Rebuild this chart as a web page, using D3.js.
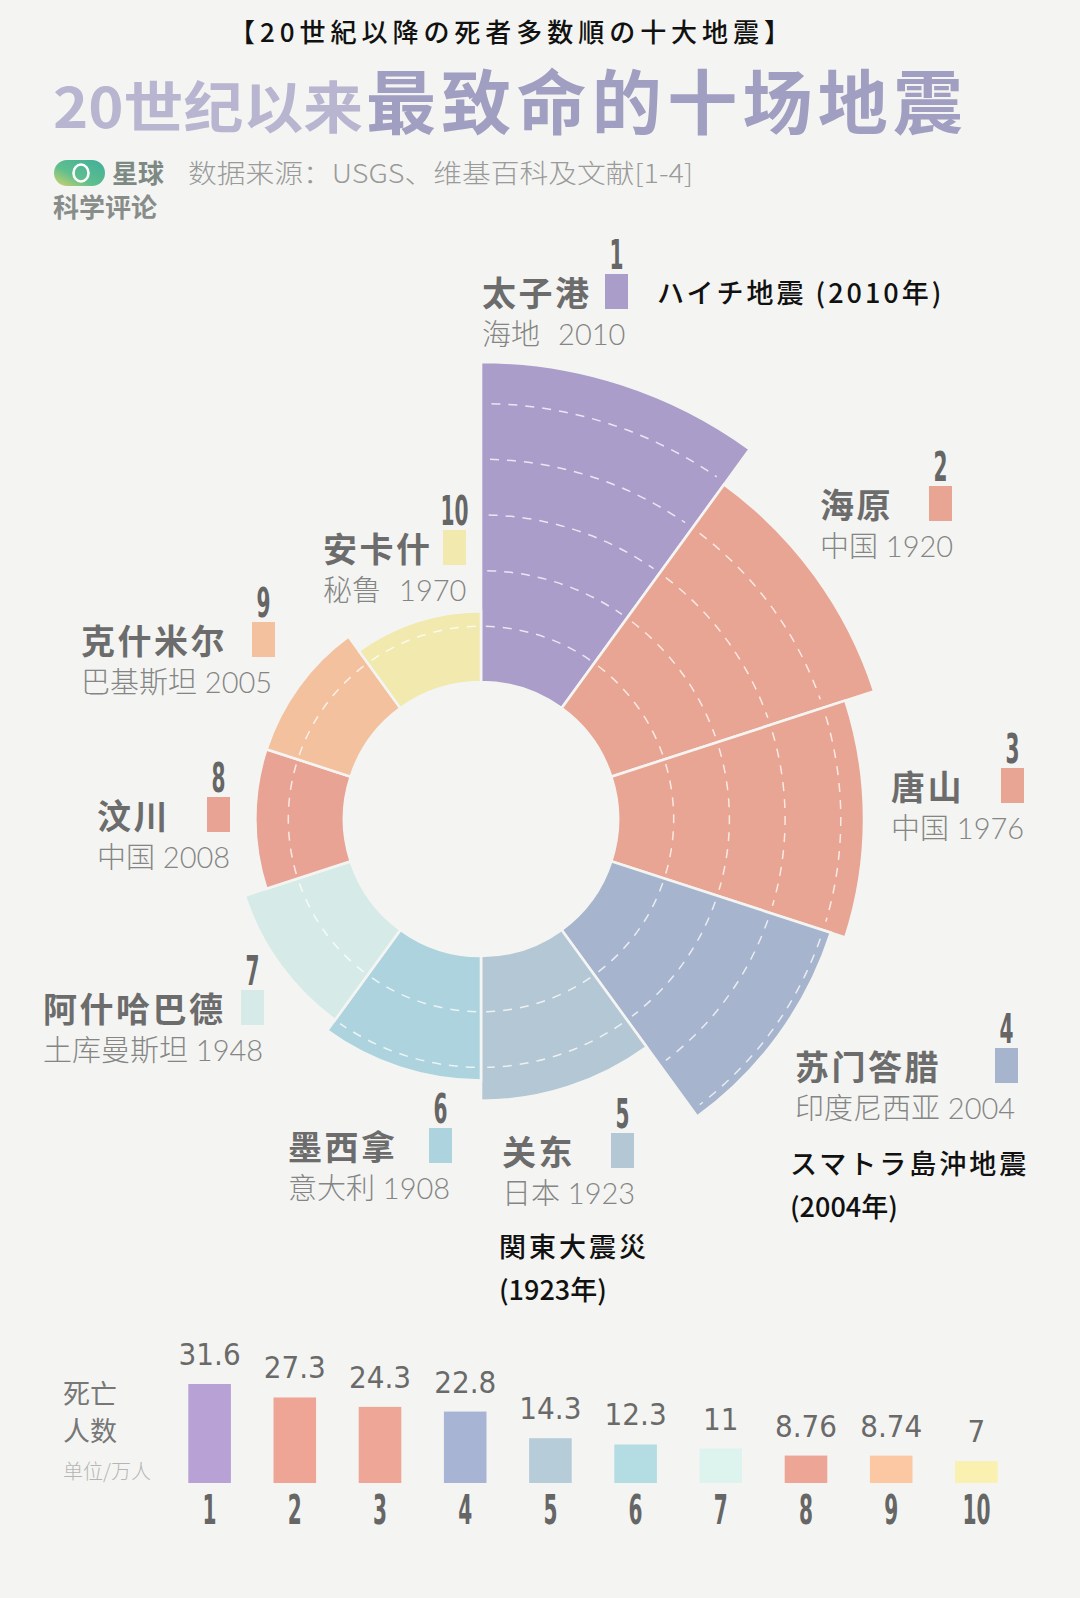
<!DOCTYPE html>
<html>
<head>
<meta charset="utf-8">
<script src="https://cdn.jsdelivr.net/npm/d3@7"></script>
<style>
  html,body{margin:0;padding:0;background:#f4f5f2;}
  svg{display:block;}
</style>
</head>
<body>
<div id="chart"></div>
<script>
// ---------------- data ----------------
const ranks = [1,2,3,4,5,6,7,8,9,10];
const names = ["太子港","海原","唐山","苏门答腊","关东","墨西拿","阿什哈巴德","汶川","克什米尔","安卡什"];
const countries = ["海地","中国","中国","印度尼西亚","日本","意大利","土库曼斯坦","中国","巴基斯坦","秘鲁"];
const years = ["2010","1920","1976","2004","1923","1908","1948","2008","2005","1970"];
const deaths = [31.6,27.3,24.3,22.8,14.3,12.3,11,8.76,8.74,7];          // 万人
const deathLabels = ["31.6","27.3","24.3","22.8","14.3","12.3","11","8.76","8.74","7"];
const gridValues = [5.5,11,16.5,22,27.5];
const jpNotes = [
  {rank:1, lines:["ハイチ地震 (2010年)"]},
  {rank:4, lines:["スマトラ島沖地震","(2004年)"]},
  {rank:5, lines:["関東大震災","(1923年)"]}
];

// ---------------- styles / layout ----------------
const sliceColors = ["#ab9dca","#e8a593","#e8a593","#a6b4cd","#b3c7d4","#add3de","#d6ebe7","#e9a394","#f3c19e","#f1e9ae"];
const barColors   = ["#b8a1d5","#eea595","#eea696","#a8b4d3","#b7ccd9","#b3dce3","#ddf3ee","#eda596","#fbc8a3","#faf0b0"];
const labelLayout = [ // name x, name baseline, swatch x
  {x:482, y:306, sx:605},
  {x:820, y:518, sx:929},
  {x:891, y:800, sx:1001},
  {x:795, y:1080, sx:995},
  {x:502, y:1165, sx:611},
  {x:288, y:1160, sx:429},
  {x:43,  y:1022, sx:241},
  {x:97,  y:829,  sx:207},
  {x:81,  y:654,  sx:252},
  {x:323, y:562,  sx:443}
];
const noteLayout = {1:{x:657,y:303}, 4:{x:790,y:1174}, 5:{x:499,y:1257}};

const W = 1080, H = 1598;
const CJK = "'Noto Sans CJK SC','Noto Sans CJK JP',sans-serif";
const SUB = "Lato,'Noto Sans CJK SC',sans-serif";
const NARROW = "'Liberation Sans Narrow','DejaVu Sans Condensed',sans-serif";

const svg = d3.select("#chart").append("svg").attr("width", W).attr("height", H);
svg.append("rect").attr("width", W).attr("height", H).attr("fill", "#f4f5f2");

// ---------------- header ----------------
svg.append("text").attr("x", 229).attr("y", 42)
  .attr("font-family", "'Noto Sans CJK JP',sans-serif").attr("font-weight", 500)
  .attr("font-size", 26).attr("fill", "#111")
  .attr("textLength", 561).attr("lengthAdjust", "spacing")
  .text("【20世紀以降の死者多数順の十大地震】");

svg.append("text").attr("x", 53).attr("y", 128)
  .attr("font-family", CJK).attr("font-weight", 700)
  .attr("font-size", 56).attr("fill", "#b7b5cf")
  .attr("textLength", 310).attr("lengthAdjust", "spacingAndGlyphs")
  .text("20世纪以来");
svg.append("text").attr("x", 366).attr("y", 129)
  .attr("font-family", CJK).attr("font-weight", 700)
  .attr("font-size", 70).attr("fill", "#a19fc1")
  .attr("textLength", 597).attr("lengthAdjust", "spacing")
  .text("最致命的十场地震");

// logo
const defs = svg.append("defs");
const lg = defs.append("linearGradient").attr("id","logoG").attr("x1","0").attr("y1","1").attr("x2","1").attr("y2","0");
lg.append("stop").attr("offset","0%").attr("stop-color","#d6d36a");
lg.append("stop").attr("offset","40%").attr("stop-color","#5fbf8e");
lg.append("stop").attr("offset","100%").attr("stop-color","#3fae9a");
svg.append("rect").attr("x",54).attr("y",160).attr("width",51).attr("height",26).attr("rx",13)
  .attr("fill","url(#logoG)");
svg.append("ellipse").attr("cx",81).attr("cy",173).attr("rx",7.5).attr("ry",8.5)
  .attr("fill","none").attr("stroke","#fff").attr("stroke-width",2.6);
svg.append("text").attr("x",112).attr("y",183)
  .attr("font-family",CJK).attr("font-weight",700).attr("font-size",26).attr("fill","#7d8983")
  .text("星球");
svg.append("text").attr("x",53).attr("y",217)
  .attr("font-family",CJK).attr("font-weight",700).attr("font-size",26).attr("fill","#888d8a")
  .text("科学评论");
svg.append("text").attr("x",188).attr("y",183)
  .attr("font-family",CJK).attr("font-weight",300).attr("font-size",26).attr("fill","#9a9a9a")
  .attr("textLength", 505).attr("lengthAdjust","spacingAndGlyphs")
  .text("数据来源：USGS、维基百科及文献[1-4]");

// ---------------- rose ----------------
const cx = 481, cy = 819;
const rScale = d3.scaleLinear().domain([0, d3.max(deaths)]).range([137, 457]);
const aScale = d3.scaleBand().domain(ranks).range([0, 2*Math.PI]);
const rose = svg.append("g").attr("transform", `translate(${cx},${cy})`);
const arc = d3.arc()
  .innerRadius(rScale(0))
  .outerRadius((d,i) => rScale(deaths[i]))
  .startAngle((d) => aScale(d))
  .endAngle((d) => aScale(d) + aScale.bandwidth());

rose.selectAll("path.slice").data(ranks).join("path")
  .attr("class","slice")
  .attr("d", (d,i) => arc(d,i))
  .attr("fill", (d,i) => sliceColors[i])
  .attr("stroke", "#f4f5f2").attr("stroke-width", 2.6).attr("stroke-linejoin","miter");

// dashed rings inside slices
ranks.forEach((d,i) => {
  const a0 = aScale(d) + 0.025, a1 = aScale(d) + aScale.bandwidth() - 0.025;
  gridValues.filter(g => g < deaths[i] - 0.4).forEach(g => {
    const p = d3.path();
    p.arc(0, 0, rScale(g), a0 - Math.PI/2, a1 - Math.PI/2);
    rose.append("path").attr("d", p.toString())
      .attr("fill","none").attr("stroke","rgba(255,255,255,0.75)")
      .attr("stroke-width",1.5).attr("stroke-dasharray","9 8");
  });
});

// ---------------- labels ----------------
ranks.forEach((d,i) => {
  const L = labelLayout[i];
  svg.append("text").attr("x", L.x).attr("y", L.y)
    .attr("font-family", CJK).attr("font-weight", 700).attr("font-size", 34)
    .attr("letter-spacing", 2.5).attr("fill", "#6c6c6c").text(names[i]);
  const sep = (d===1 || d===10) ? "\u2002\u2009" : " ";
  svg.append("text").attr("x", L.x).attr("y", L.y + 39)
    .attr("font-family", SUB).attr("font-weight", 300).attr("font-size", 29)
    .attr("fill", "#858585")
    .text(countries[i] + sep + years[i]);
  svg.append("rect").attr("x", L.sx).attr("y", L.y - 32).attr("width", 23).attr("height", 35)
    .attr("fill", sliceColors[i]);
  const rs = String(d);
  svg.append("text").attr("x", L.sx + 11.5).attr("y", L.y - 37)
    .attr("text-anchor","middle")
    .attr("font-family", NARROW).attr("font-weight", 700).attr("font-size", 40)
    .attr("fill", "#666")
    .attr("textLength", rs.length * 14).attr("lengthAdjust","spacingAndGlyphs")
    .text(rs);
});

// Japanese notes
jpNotes.forEach(n => {
  const P = noteLayout[n.rank];
  n.lines.forEach((t, k) => {
    svg.append("text").attr("x", P.x).attr("y", P.y + k*43)
      .attr("font-family", "'Noto Sans CJK JP',sans-serif").attr("font-weight", 500)
      .attr("font-size", 27).attr("fill", "#111")
      .attr("letter-spacing", /^\(/.test(t) ? 0 : 3)
      .text(t);
  });
});

// ---------------- bar chart ----------------
const x = d3.scaleBand().domain(ranks).range([167, 1019]).paddingInner(0.5).paddingOuter(0.25);
const y = d3.scaleLinear().domain([0, d3.max(deaths)]).range([1483, 1384]);
const bars = svg.append("g");
bars.selectAll("rect").data(ranks).join("rect")
  .attr("x", d => x(d)).attr("width", x.bandwidth())
  .attr("y", (d,i) => y(deaths[i])).attr("height", (d,i) => y(0) - y(deaths[i]))
  .attr("fill", (d,i) => barColors[i]);
bars.selectAll("text.val").data(ranks).join("text")
  .attr("class","val")
  .attr("x", d => x(d) + x.bandwidth()/2)
  .attr("y", (d,i) => y(deaths[i]) - 19)
  .attr("text-anchor","middle")
  .attr("font-family", NARROW).attr("font-size", 31).attr("fill", "#6a6a6a")
  .text((d,i) => deathLabels[i]);
const xAxis = d3.axisBottom(x).tickSize(0).tickPadding(0);
const gx = svg.append("g").attr("transform", `translate(0,${y(0)})`).call(xAxis);
gx.select(".domain").remove();
gx.selectAll("text")
  .attr("y", 41).attr("dy", 0)
  .attr("font-family", NARROW).attr("font-weight", 700).attr("font-size", 40)
  .attr("fill", "#666")
  .attr("textLength", d => String(d).length * 14).attr("lengthAdjust","spacingAndGlyphs");

svg.append("text").attr("x", 63).attr("y", 1404)
  .attr("font-family", CJK).attr("font-weight", 400).attr("font-size", 27).attr("fill", "#777")
  .text("死亡");
svg.append("text").attr("x", 63).attr("y", 1441)
  .attr("font-family", CJK).attr("font-weight", 400).attr("font-size", 27).attr("fill", "#777")
  .text("人数");
svg.append("text").attr("x", 63).attr("y", 1479)
  .attr("font-family", CJK).attr("font-weight", 300).attr("font-size", 20).attr("fill", "#b5b5b5")
  .text("单位/万人");
</script>
</body>
</html>
